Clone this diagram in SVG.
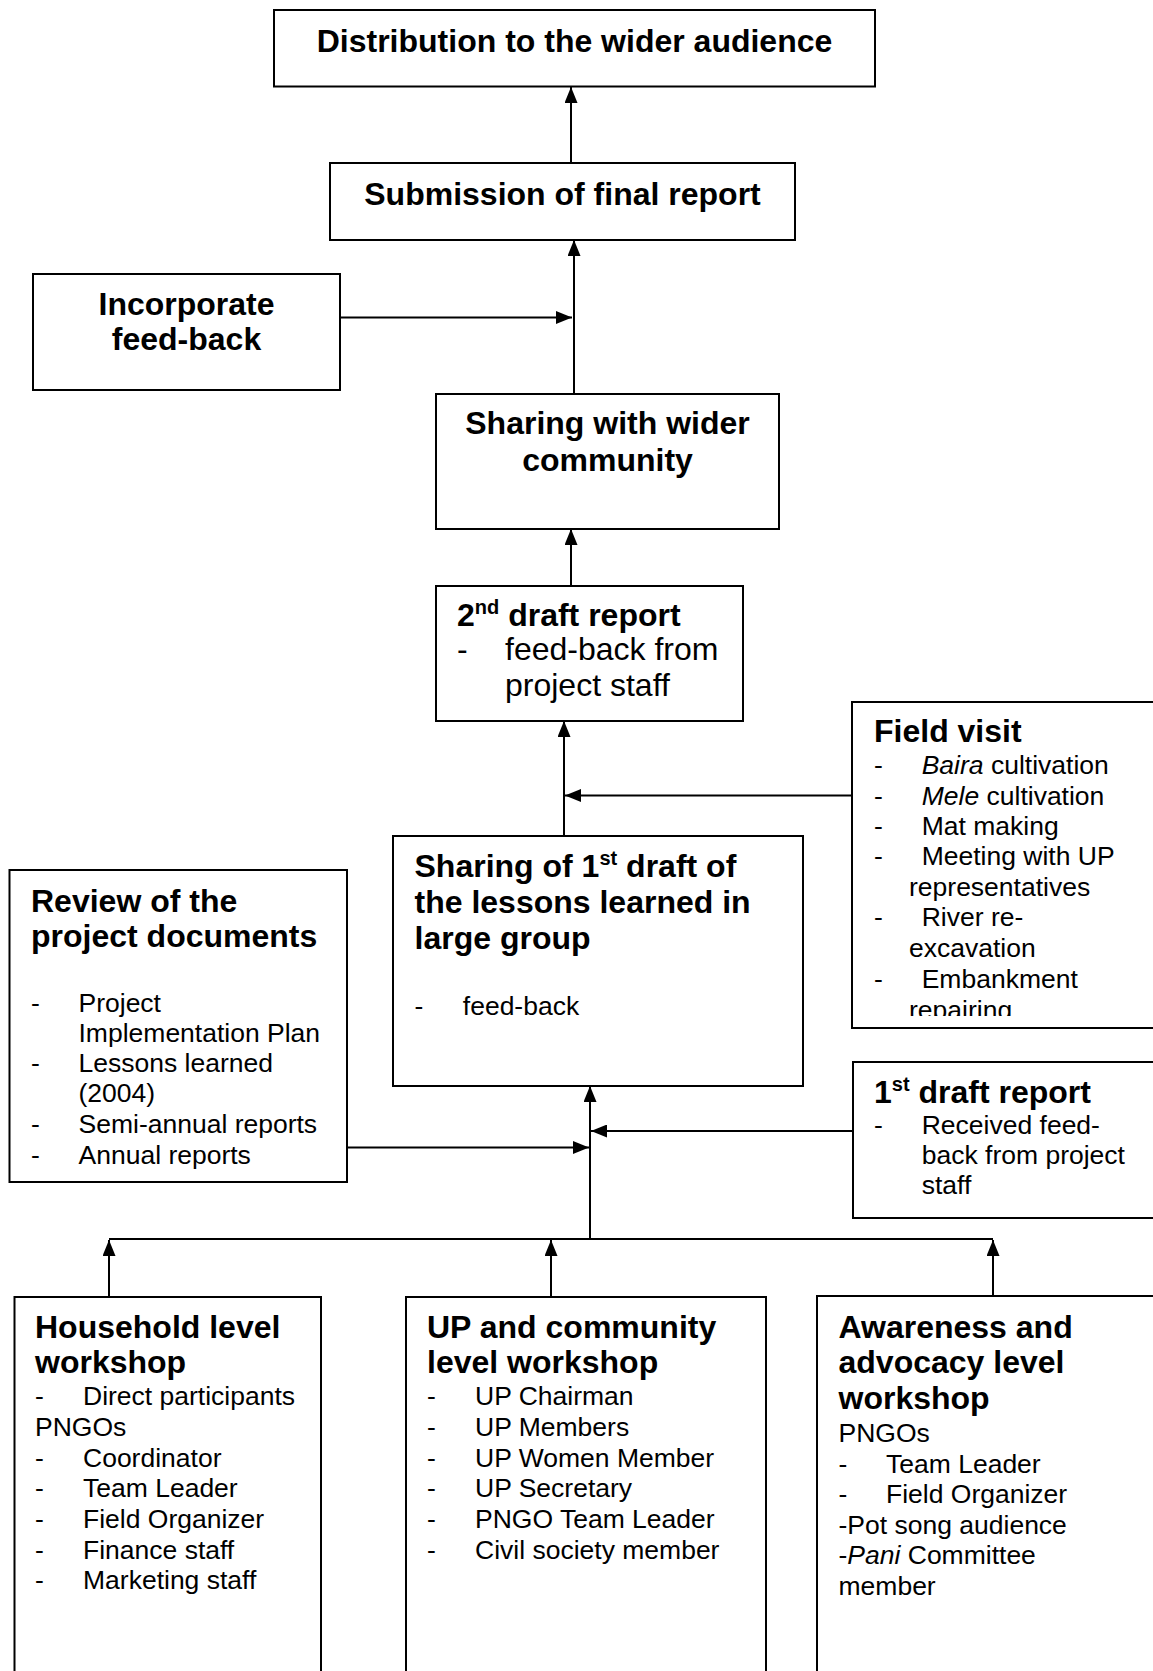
<svg xmlns="http://www.w3.org/2000/svg" width="1153" height="1671" viewBox="0 0 1153 1671">
<style>
.box{fill:#fff;stroke:#000;stroke-width:2}
.conn line{stroke:#000;stroke-width:2}
text{font-family:"Liberation Sans",Arial,Helvetica,sans-serif;fill:#000}
.t{font-size:32px;font-weight:bold}
.b{font-size:26.5px}
.bl{font-size:32px}
.c{text-anchor:middle}
.i{font-style:italic}
.sup{font-size:20px}
</style>
<defs>
<marker id="ah" markerUnits="userSpaceOnUse" markerWidth="17" markerHeight="13" refX="16" refY="6.5" orient="auto">
<path d="M0,0 L16,6.5 L0,13 z" fill="#000"/>
</marker>
<clipPath id="fvclip"><rect x="850" y="700" width="310" height="316"/></clipPath>
</defs>

<g id="connectors" class="conn">
<line x1="571" y1="163" x2="571" y2="87" marker-end="url(#ah)"/>
<line x1="574" y1="394" x2="574" y2="240" marker-end="url(#ah)"/>
<line x1="340" y1="317.5" x2="572" y2="317.5" marker-end="url(#ah)"/>
<line x1="571" y1="586" x2="571" y2="529" marker-end="url(#ah)"/>
<line x1="564" y1="836" x2="564" y2="721" marker-end="url(#ah)"/>
<line x1="852" y1="795.5" x2="565" y2="795.5" marker-end="url(#ah)"/>
<line x1="590" y1="1239" x2="590" y2="1086" marker-end="url(#ah)"/>
<line x1="347" y1="1147.5" x2="589" y2="1147.5" marker-end="url(#ah)"/>
<line x1="853" y1="1131" x2="591" y2="1131" marker-end="url(#ah)"/>
<line x1="109" y1="1239" x2="993" y2="1239"/>
<line x1="109" y1="1297" x2="109" y2="1240" marker-end="url(#ah)"/>
<line x1="551" y1="1297" x2="551" y2="1240" marker-end="url(#ah)"/>
<line x1="993" y1="1296" x2="993" y2="1240" marker-end="url(#ah)"/>
</g>

<g id="distribution">
<rect class="box" x="274" y="10" width="601" height="76.5"/>
<text class="t c" x="574.5" y="52">Distribution to the wider audience</text>
</g>

<g id="submission">
<rect class="box" x="330" y="163" width="465" height="77"/>
<text class="t c" x="562.5" y="205">Submission of final report</text>
</g>

<g id="incorporate">
<rect class="box" x="33" y="274" width="307" height="116"/>
<text class="t c" x="186.5" y="314.5">Incorporate</text>
<text class="t c" x="186.5" y="349.5">feed-back</text>
</g>

<g id="sharing-wider">
<rect class="box" x="436" y="394" width="343" height="135"/>
<text class="t c" x="607.5" y="434">Sharing with wider</text>
<text class="t c" x="607.5" y="471">community</text>
</g>

<g id="second-draft">
<rect class="box" x="436" y="586" width="307" height="135"/>
<text class="t" x="457" y="626">2<tspan class="sup" dy="-12">nd</tspan><tspan dy="12"> draft report</tspan></text>
<text class="bl" x="457" y="660">-</text>
<text class="bl" x="505" y="660">feed-back from</text>
<text class="bl" x="505" y="696">project staff</text>
</g>

<g id="field-visit">
<rect class="box" x="852" y="702" width="320" height="326"/>
<text class="t" x="874" y="742">Field visit</text>
<g clip-path="url(#fvclip)">
<text class="b" x="874" y="774">-</text><text class="b" x="921.7" y="774"><tspan class="i">Baira</tspan> cultivation</text>
<text class="b" x="874" y="804.5">-</text><text class="b" x="921.7" y="804.5"><tspan class="i">Mele</tspan> cultivation</text>
<text class="b" x="874" y="834.5">-</text><text class="b" x="921.7" y="834.5">Mat making</text>
<text class="b" x="874" y="865">-</text><text class="b" x="921.7" y="865">Meeting with UP</text>
<text class="b" x="909" y="895.5">representatives</text>
<text class="b" x="874" y="926">-</text><text class="b" x="921.7" y="926">River re-</text>
<text class="b" x="909" y="957">excavation</text>
<text class="b" x="874" y="988">-</text><text class="b" x="921.7" y="988">Embankment</text>
<text class="b" x="909" y="1018.5">repairing</text>
</g>
</g>

<g id="sharing-first">
<rect class="box" x="393" y="836" width="410" height="250"/>
<text class="t" x="414.5" y="877">Sharing of 1<tspan class="sup" dy="-12">st</tspan><tspan dy="12"> draft of</tspan></text>
<text class="t" x="414.5" y="912.5">the lessons learned in</text>
<text class="t" x="414.5" y="949">large group</text>
<text class="b" x="414.5" y="1014.5">-</text>
<text class="b" x="462.8" y="1014.5">feed-back</text>
</g>

<g id="review">
<rect class="box" x="9.5" y="870" width="337.5" height="312"/>
<text class="t" x="31" y="911.5">Review of the</text>
<text class="t" x="31" y="947">project documents</text>
<text class="b" x="31" y="1011.5">-</text><text class="b" x="78.5" y="1011.5">Project</text>
<text class="b" x="78.5" y="1041.5">Implementation Plan</text>
<text class="b" x="31" y="1072">-</text><text class="b" x="78.5" y="1072">Lessons learned</text>
<text class="b" x="78.5" y="1101.5">(2004)</text>
<text class="b" x="31" y="1132.5">-</text><text class="b" x="78.5" y="1132.5">Semi-annual reports</text>
<text class="b" x="31" y="1163.5">-</text><text class="b" x="78.5" y="1163.5">Annual reports</text>
</g>

<g id="first-draft">
<rect class="box" x="853" y="1062" width="320" height="156"/>
<text class="t" x="874" y="1102.5">1<tspan class="sup" dy="-12">st</tspan><tspan dy="12"> draft report</tspan></text>
<text class="b" x="874" y="1133.5">-</text><text class="b" x="921.7" y="1133.5">Received feed-</text>
<text class="b" x="921.7" y="1163.5">back from project</text>
<text class="b" x="921.7" y="1194">staff</text>
</g>

<g id="household">
<rect class="box" x="14.5" y="1297" width="306.5" height="400"/>
<text class="t" x="35" y="1338">Household level</text>
<text class="t" x="35" y="1373">workshop</text>
<text class="b" x="35" y="1405">-</text><text class="b" x="83" y="1405">Direct participants</text>
<text class="b" x="35" y="1436">PNGOs</text>
<text class="b" x="35" y="1466.5">-</text><text class="b" x="83" y="1466.5">Coordinator</text>
<text class="b" x="35" y="1497">-</text><text class="b" x="83" y="1497">Team Leader</text>
<text class="b" x="35" y="1528">-</text><text class="b" x="83" y="1528">Field Organizer</text>
<text class="b" x="35" y="1558.5">-</text><text class="b" x="83" y="1558.5">Finance staff</text>
<text class="b" x="35" y="1589">-</text><text class="b" x="83" y="1589">Marketing staff</text>
</g>

<g id="up-community">
<rect class="box" x="406" y="1297" width="360" height="400"/>
<text class="t" x="427" y="1338">UP and community</text>
<text class="t" x="427" y="1373">level workshop</text>
<text class="b" x="427" y="1405">-</text><text class="b" x="475" y="1405">UP Chairman</text>
<text class="b" x="427" y="1436">-</text><text class="b" x="475" y="1436">UP Members</text>
<text class="b" x="427" y="1466.5">-</text><text class="b" x="475" y="1466.5">UP Women Member</text>
<text class="b" x="427" y="1497">-</text><text class="b" x="475" y="1497">UP Secretary</text>
<text class="b" x="427" y="1528">-</text><text class="b" x="475" y="1528">PNGO Team Leader</text>
<text class="b" x="427" y="1558.5">-</text><text class="b" x="475" y="1558.5">Civil society member</text>
</g>

<g id="awareness">
<rect class="box" x="817" y="1296" width="360" height="400"/>
<text class="t" x="838.5" y="1337.5">Awareness and</text>
<text class="t" x="838.5" y="1373">advocacy level</text>
<text class="t" x="838.5" y="1409">workshop</text>
<text class="b" x="838.5" y="1441.5">PNGOs</text>
<text class="b" x="838.5" y="1472.5">-</text><text class="b" x="886" y="1472.5">Team Leader</text>
<text class="b" x="838.5" y="1503">-</text><text class="b" x="886" y="1503">Field Organizer</text>
<text class="b" x="838.5" y="1533.5">-Pot song audience</text>
<text class="b" x="838.5" y="1564">-<tspan class="i">Pani</tspan> Committee</text>
<text class="b" x="838.5" y="1595">member</text>
</g>
</svg>
